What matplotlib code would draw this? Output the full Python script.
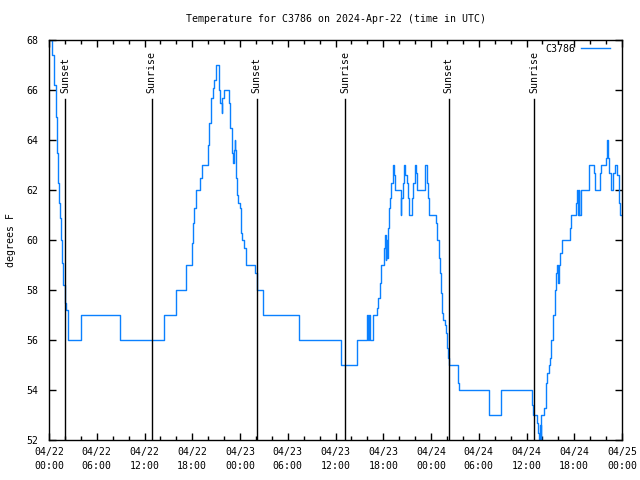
import matplotlib
matplotlib.use("Agg")
import matplotlib.pyplot as plt
from matplotlib.ticker import MultipleLocator

# hours since 2024-04-22 00:00 UTC and temperature (F)
hours = [0.13, 0.34, 0.63, 0.88, 1.04, 1.17, 1.29, 1.38, 1.51, 1.63, 1.80, 1.97,
         2.14, 2.35, 2.43, 4.02, 8.98, 14.51, 15.96, 17.22, 18.01, 18.13, 18.26,
         18.47, 19.01, 19.23, 19.98, 20.14, 20.32, 20.57, 20.73, 20.99, 21.32,
         21.49, 21.70, 21.80, 21.95, 22.66, 22.80, 22.96, 23.09, 23.22, 23.31,
         23.40, 23.49, 23.62, 23.75, 24.00, 24.13, 24.25, 24.50, 24.75, 25.89,
         26.10, 26.85, 31.40, 36.70, 38.64, 39.90, 40.09, 40.25, 40.34, 40.68,
         41.26, 41.38, 41.56, 41.68, 42.10, 42.18, 42.31, 42.38, 42.51, 42.64,
         42.76, 42.89, 43.01, 43.19, 43.35, 43.48, 44.20, 44.27, 44.45, 44.61,
         44.78, 44.95, 45.11, 45.28, 45.62, 45.78, 45.95, 46.12, 46.28, 47.21,
         47.29, 47.46, 47.63, 47.79, 48.63, 48.79, 48.97, 49.13, 49.22, 49.38,
         49.55, 49.76, 49.89, 50.05, 50.18, 50.30, 51.43, 51.56, 55.29, 56.80,
         60.70, 60.86, 61.36, 61.49, 61.61, 61.70, 61.76, 61.83, 62.24, 62.45,
         62.62, 62.79, 62.96, 63.08, 63.33, 63.58, 63.71, 63.84, 63.96, 64.09,
         64.21, 64.46, 65.47, 65.60, 66.23, 66.31, 66.41, 66.54, 66.64, 66.81,
         67.82, 67.90, 68.53, 68.66, 69.24, 69.37, 70.00, 70.16, 70.29, 70.41,
         70.59, 70.92, 71.17, 71.42, 71.60, 71.73, 72.00]
temps = [68.0, 67.4, 66.2, 64.9, 63.5, 62.3, 61.5, 60.9, 60.0, 59.1, 58.2, 57.5,
         57.2, 57.0, 56.0, 57.0, 56.0, 57.0, 58.0, 59.0, 59.9, 60.7, 61.3,
         62.0, 62.5, 63.0, 63.8, 64.7, 65.7, 66.1, 66.4, 67.0, 66.0,
         65.5, 65.1, 65.7, 66.0, 65.5, 64.5, 63.5, 63.1, 63.6, 64.0,
         63.6, 62.5, 61.8, 61.5, 61.3, 60.3, 60.0, 59.7, 59.0, 58.7,
         58.0, 57.0, 56.0, 55.0, 56.0, 57.0, 56.0, 57.0, 56.0, 57.0,
         57.3, 57.7, 58.3, 59.0, 59.7, 60.2, 59.2, 60.0, 59.3, 60.5,
         61.3, 61.7, 62.3, 63.0, 62.6, 62.0, 61.0, 61.7, 62.3, 63.0,
         62.6, 62.3, 61.7, 61.0, 61.7, 62.3, 63.0, 62.7, 62.0, 62.7,
         63.0, 62.3, 61.7, 61.0, 60.7, 60.0, 59.3, 58.7, 57.9, 57.1,
         56.8, 56.6, 56.3, 55.7, 55.3, 55.0, 54.3, 54.0, 53.0, 54.0,
         53.4, 53.0, 52.7, 52.3, 52.0, 52.6, 52.0, 53.0, 53.3, 54.3,
         54.7, 55.0, 55.3, 56.0, 57.0, 58.0, 58.7, 59.0, 58.3, 59.0,
         59.5, 60.0, 60.5, 61.0, 61.5, 62.0, 61.0, 62.0, 61.0, 62.0,
         62.7, 63.0, 62.7, 62.0, 62.7, 63.0, 63.3, 64.0, 63.3, 62.7,
         62.0, 62.7, 63.0, 62.6, 61.5, 61.0, 61.0]

sun_hours = [2.0, 12.9, 26.1, 37.2, 50.2, 61.0]
sun_labels = ["Sunset", "Sunrise", "Sunset", "Sunrise", "Sunset", "Sunrise"]

tick_hours = [0, 6, 12, 18, 24, 30, 36, 42, 48, 54, 60, 66, 72]
tick_labels = ["04/22\n00:00", "04/22\n06:00", "04/22\n12:00", "04/22\n18:00",
               "04/23\n00:00", "04/23\n06:00", "04/23\n12:00", "04/23\n18:00",
               "04/24\n00:00", "04/24\n06:00", "04/24\n12:00", "04/24\n18:00",
               "04/25\n00:00"]

plt.rcParams['font.family'] = 'DejaVu Sans Mono'
plt.rcParams['font.size'] = 7.1

fig = plt.figure(figsize=(6.4, 4.8), dpi=100)
ax = fig.add_axes([49 / 640, 40 / 480, 573 / 640, 400 / 480])

ax.plot(hours, temps, color='#0a80ff', lw=1.0, drawstyle='steps-post', label='C3786')

for h, lab in zip(sun_hours, sun_labels):
    ax.axvline(h, ymin=0, ymax=0.852, color='black', lw=1.0)
    ax.text(h, 0.867, lab, rotation=90, ha='center', va='bottom',
            transform=ax.get_xaxis_transform())

ax.set_xlim(0, 72)
ax.set_ylim(52, 68)
ax.set_xticks(tick_hours)
ax.set_xticklabels(tick_labels, linespacing=1.45)
ax.xaxis.set_minor_locator(MultipleLocator(2))
ax.set_yticks(range(52, 69, 2))
ax.tick_params(which='both', direction='in', top=True, right=True, width=1)
ax.tick_params(which='major', length=5)
ax.tick_params(axis='x', which='major', pad=5)
ax.tick_params(axis='y', which='major', pad=8)
ax.tick_params(which='minor', length=3)
for s in ax.spines.values():
    s.set_linewidth(1.0)

ax.set_ylabel("degrees F")
ax.yaxis.set_label_coords(-0.058, 0.5)
ax.set_title("Temperature for C3786 on 2024-Apr-22 (time in UTC)", fontsize=7.1, pad=13)
ax.legend(loc='upper right', bbox_to_anchor=(0.986, 1.0), frameon=False,
          markerfirst=False, handlelength=2.9, borderaxespad=0.0,
          handletextpad=0.6, fontsize=7.1)

fig.savefig("out.png", dpi=100)
